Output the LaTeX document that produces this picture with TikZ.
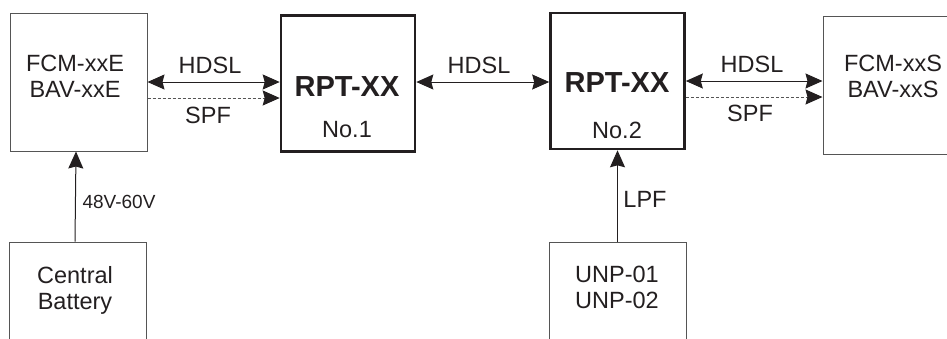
\documentclass[tikz,border=0pt]{standalone}
\usepackage{fontspec}
\setmainfont{Liberation Sans}
\usetikzlibrary{arrows.meta}
\definecolor{ink}{HTML}{231F20}
\definecolor{thinline}{HTML}{555555}
\tikzset{
  unit/.style={draw=thinline, line width=1pt, minimum width=137pt, minimum height=138pt, inner sep=0pt},
  rptbox/.style={draw=ink, line width=2.6pt, minimum width=134pt, minimum height=136pt, inner sep=0pt},
  txt/.style={text=ink, font=\fontsize{23.5}{26}\selectfont, align=center, inner sep=0pt},
  bigtxt/.style={text=ink, font=\fontsize{29}{32}\selectfont\bfseries, inner sep=0pt},
  smalltxt/.style={text=ink, font=\fontsize{19}{22}\selectfont, inner sep=0pt},
  link/.style={draw=ink, line width=1pt},
  dashlink/.style={draw=thinline, line width=1pt, dash pattern=on 3pt off 2pt},
}
\begin{document}
\begin{tikzpicture}[x=1pt, y=-1pt, >={Stealth[length=17pt, width=15pt, inset=2pt, color=ink]}]
  \useasboundingbox (0,0) rectangle (947,338);
  \clip (0,0) rectangle (947,338);

  % equipment boxes
  \node[unit] (fcmE) at (78.5,82) {};
  \node[rptbox] (rpt1) at (348,83.5) {};
  \node[rptbox] (rpt2) at (617.5,81) {};
  \node[unit] (fcmS) at (891.5,85) {};
  \node[unit] (bat) at (77.5,311) {};
  \node[unit] (unp) at (617.5,311) {};

  % box texts
  \node[txt] (fcmEtxt) at (75,76) {FCM-xxE\\BAV-xxE};
  \node[bigtxt] (rpt1name) at (347,87) {RPT-XX};
  \node[txt] (rpt1no) at (347,130) {No.1};
  \node[bigtxt] (rpt2name) at (617,83) {RPT-XX};
  \node[txt] (rpt2no) at (617,130) {No.2};
  \node[txt] (fcmStxt) at (893,76) {FCM-xxS\\BAV-xxS};
  \node[txt] (battxt) at (75,290) {Central\\Battery};
  \node[txt] (unptxt) at (617,287) {UNP-01\\UNP-02};

  % attachment points for the lower (SPF) and middle links
  \coordinate (spfE) at ([yshift=-16pt]fcmE.east);
  \coordinate (spfS) at ([yshift=-16pt]rpt2.east);
  \coordinate (midL) at ([yshift=1.5pt]rpt1.east);
  \coordinate (batUp) at ([xshift=-2.5pt]bat.north);
  \coordinate (fcmDown) at ([xshift=-2.5pt]fcmE.south);

  % links between units
  \draw[link, <->] (fcmE.east) -- (rpt1.west |- fcmE.east);
  \draw[dashlink, ->] (spfE) -- (rpt1.west |- spfE);
  \draw[link, <->] (midL) -- (rpt2.west |- midL);
  \draw[link, <->] (rpt2.east) -- (fcmS.west |- rpt2.east);
  \draw[dashlink, ->] (spfS) -- (fcmS.west |- spfS);
  \draw[link, ->] (batUp) -- (fcmDown);
  \draw[link, ->] (unp.north) -- (rpt2.south);

  % link labels
  \node[txt] (l1) at (210,65) {HDSL};
  \node[txt] (l2) at (208,115) {SPF};
  \node[txt] (l3) at (479,65) {HDSL};
  \node[txt] (l4) at (752,64) {HDSL};
  \node[txt] (l5) at (750,113) {SPF};
  \node[smalltxt] (l6) at (119,202) {48V-60V};
  \node[txt] (l7) at (645,199) {LPF};
\end{tikzpicture}
\end{document}
